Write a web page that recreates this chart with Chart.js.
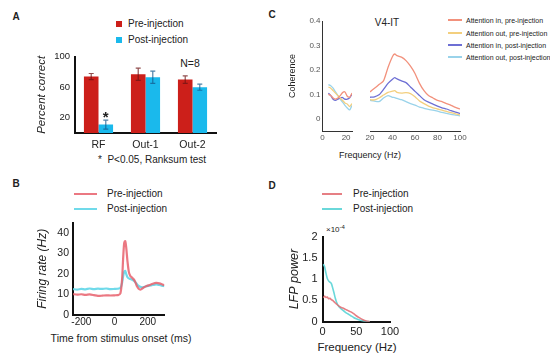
<!DOCTYPE html>
<html>
<head>
<meta charset="utf-8">
<script src="https://cdn.jsdelivr.net/npm/chart.js@4.4.1/dist/chart.umd.min.js"></script>
<style>
  body { margin:0; background:#fff; }
  #fig { position:relative; width:550px; height:358px; overflow:hidden; font-family:"Liberation Sans", Arial, sans-serif; color:#222; }
  canvas { position:absolute; }
  .t { position:absolute; white-space:nowrap; line-height:1; }
  .c { transform:translate(-50%,-50%); }
  .l { transform:translateY(-50%); }
  .sw { position:absolute; }
  .b { font-weight:bold; }
</style>
</head>
<body>
<div id="fig">
  <!-- A -->
  <div class="t c b" style="left:16px;top:17px;font-size:10px">A</div>
  <div class="sw" style="left:116px;top:21px;width:6px;height:6px;background:#cc1f1a"></div>
  <div class="t l" style="left:128px;top:24px;font-size:10px">Pre-injection</div>
  <div class="sw" style="left:116px;top:37px;width:6px;height:6px;background:#1ab9ec"></div>
  <div class="t l" style="left:128px;top:40px;font-size:10px">Post-injection</div>
  <div class="t c" style="left:190px;top:63px;font-size:10.5px">N=8</div>
  <div class="t l" style="left:98px;top:160px;font-size:10px">*&nbsp; P&lt;0.05, Ranksum test</div>
  <canvas id="cA" width="215" height="115" style="left:20px;top:46px"></canvas>

  <!-- B -->
  <div class="t c b" style="left:16px;top:184px;font-size:10px">B</div>
  <div class="sw" style="left:74px;top:193px;width:23px;height:2px;background:rgba(232,96,108,0.85)"></div>
  <div class="t l" style="left:107px;top:194px;font-size:10px">Pre-injection</div>
  <div class="sw" style="left:74px;top:208px;width:23px;height:2px;background:rgba(96,214,232,0.9)"></div>
  <div class="t l" style="left:107px;top:209px;font-size:10px">Post-injection</div>
  <div class="t c" style="left:121px;top:338px;font-size:10.5px">Time from stimulus onset (ms)</div>
  <canvas id="cB" width="160" height="140" style="left:20px;top:212px"></canvas>

  <!-- C -->
  <div class="t c b" style="left:272px;top:15px;font-size:10px">C</div>
  <div class="t c" style="left:387px;top:23px;font-size:10px">V4-IT</div>
  <div class="sw" style="left:448px;top:19px;width:14px;height:1.5px;background:#f2917c"></div>
  <div class="t l" style="left:466px;top:20px;font-size:7px">Attention in, pre-injection</div>
  <div class="sw" style="left:448px;top:32px;width:14px;height:1.5px;background:#f3cf7e"></div>
  <div class="t l" style="left:466px;top:33px;font-size:7px">Attention out, pre-injection</div>
  <div class="sw" style="left:448px;top:44px;width:14px;height:1.5px;background:#6d6fd4"></div>
  <div class="t l" style="left:466px;top:45px;font-size:7px">Attention in, post-injection</div>
  <div class="sw" style="left:448px;top:56px;width:14px;height:1.5px;background:#9ad3ea"></div>
  <div class="t l" style="left:466px;top:57px;font-size:7px">Attention out, post-injection</div>
  <div class="t c" style="left:370px;top:155px;font-size:9px">Frequency (Hz)</div>
  <canvas id="cC1" width="75" height="135" style="left:285px;top:11px"></canvas>
  <canvas id="cC2" width="110" height="135" style="left:360px;top:11px"></canvas>

  <!-- D -->
  <div class="t c b" style="left:272px;top:186px;font-size:10px">D</div>
  <div class="sw" style="left:322px;top:193px;width:20px;height:2px;background:rgba(226,104,110,0.85)"></div>
  <div class="t l" style="left:353px;top:194px;font-size:10px">Pre-injection</div>
  <div class="sw" style="left:322px;top:208px;width:20px;height:2px;background:rgba(90,212,214,0.9)"></div>
  <div class="t l" style="left:353px;top:209px;font-size:10px">Post-injection</div>
  <div class="t l" style="left:326px;top:229px;font-size:8px">&times;10<sup style="font-size:6px">-4</sup></div>
  <div class="t c" style="left:357px;top:348px;font-size:11.5px">Frequency (Hz)</div>
  <canvas id="cD" width="135" height="130" style="left:270px;top:225px"></canvas>
</div>

<script>
Chart.defaults.font.family = "'Liberation Sans', Arial, sans-serif";
Chart.defaults.color = '#222';

const COLORES = { rojo:'#cc1f1a', azul:'#1ab9ec', preB:'rgba(232,96,108,0.85)', postB:'rgba(96,214,232,0.9)',
  inPre:'#f2917c', outPre:'#f3cf7e', inPost:'#6d6fd4', outPost:'#9ad3ea',
  preD:'rgba(226,104,110,0.85)', postD:'rgba(90,212,214,0.9)' };

// A: percent correct
const catsA = ['RF', 'Out-1', 'Out-2'];
const preA = [74, 77, 70];
const postA = [11, 73, 60];
const preErrA = [4, 8, 5];
const postErrA = [6, 8, 4];
const starsA = ['*', '', ''];
const ticksA = [20, 60, 100];

// B: firing rate
const timeB = [-250,-225,-200,-175,-150,-125,-100,-75,-50,-25,0,20,35,45,52,58,64,70,78,86,95,105,115,125,135,145,155,165,175,190,210,230,250,270,290,300];
const preB  = [10.2,9.9,10.1,9.8,10.0,9.7,9.3,9.4,9.6,9.5,9.6,9.7,10.5,17,28,35,36,33,26,21,19,18.2,17.4,16,14,12.8,12.4,12.8,13.4,14,14.6,15.2,15.6,15.4,14.8,14.5];
const postB = [12.6,12.4,12.7,12.5,12.9,12.6,12.8,12.7,12.9,12.6,12.7,12.8,13.2,15.5,19,21,21.5,20,18.4,17.8,17.5,17.2,16.8,16,15,14.2,13.7,13.5,13.6,14,14.3,14.6,14.9,14.6,14.2,14];
const ticksBx = [-200, 0, 200];
const ticksBy = [0, 10, 20, 30, 40];

// C: coherence V4-IT
const freqC1 = [5,7,9,11,13,15,17,19,21,23,25];
const inPreC1   = [0.100,0.095,0.085,0.080,0.085,0.095,0.107,0.110,0.092,0.088,0.105];
const outPreC1  = [0.130,0.125,0.115,0.105,0.095,0.085,0.075,0.065,0.060,0.050,0.062];
const inPostC1  = [0.105,0.095,0.080,0.075,0.080,0.085,0.087,0.080,0.080,0.086,0.100];
const outPostC1 = [0.140,0.135,0.125,0.110,0.095,0.080,0.068,0.055,0.044,0.036,0.055];
const freqC2 = [20,24,28,32,36,40,42,44,48,52,56,60,64,68,72,76,80,84,88,92,96,100];
const inPreC2   = [0.110,0.125,0.140,0.155,0.210,0.255,0.265,0.258,0.252,0.238,0.215,0.185,0.145,0.115,0.095,0.085,0.075,0.070,0.062,0.055,0.047,0.040];
const outPreC2  = [0.078,0.077,0.085,0.097,0.108,0.113,0.115,0.108,0.105,0.107,0.103,0.090,0.073,0.062,0.052,0.045,0.040,0.035,0.030,0.025,0.020,0.016];
const inPostC2  = [0.088,0.090,0.098,0.120,0.145,0.162,0.168,0.163,0.155,0.148,0.130,0.112,0.095,0.078,0.068,0.060,0.052,0.045,0.040,0.033,0.027,0.022];
const outPostC2 = [0.075,0.072,0.070,0.085,0.095,0.088,0.087,0.083,0.078,0.070,0.062,0.056,0.048,0.043,0.038,0.035,0.031,0.026,0.022,0.018,0.015,0.012];
const ticksCy = [0, 0.1, 0.2, 0.3, 0.4];
const ticksC1x = [0, 20];
const ticksC2x = [20, 40, 60, 80, 100];

// D: LFP power (x1e-4)
const freqD = [1,3,5,7,9,11,13,15,17,19,21,24,27,30,34,38,42,46,50,55,60,65,70];
const postD = [1.35,1.30,1.15,1.02,0.96,0.93,0.90,0.80,0.68,0.55,0.45,0.36,0.31,0.27,0.22,0.18,0.14,0.10,0.07,0.04,0.02,0.005,0];
const preD  = [0.56,0.60,0.57,0.58,0.54,0.55,0.52,0.50,0.47,0.44,0.41,0.37,0.34,0.32,0.29,0.26,0.23,0.19,0.14,0.09,0.045,0.015,0];
const ticksDx = [0, 50, 100];
const ticksDy = [0, 0.5, 1, 1.5, 2];

const xy = (xs, ys) => xs.map((x, i) => ({ x: x, y: ys[i] }));

function eje(o) {
  // ejes estilo matlab: solo la línea del borde
  const ticks = { font: { size: o.fs || 10 }, padding: o.pad || 4, color: o.tc || '#222', maxRotation: 0, autoSkip: false };
  if (o.type !== 'category') ticks.callback = v => String(v);
  return {
    type: o.type || 'linear', min: o.min, max: o.max, display: o.display === undefined ? true : o.display,
    afterFit: s => { if (o.w !== undefined) s.width = o.w; if (o.h !== undefined) s.height = o.h; },
    afterBuildTicks: o.ticks ? (s => { s.ticks = o.ticks.map(v => ({ value: v })); }) : undefined,
    grid: { display: false, drawTicks: false },
    border: { color: o.bc || '#111', width: o.bw || 2 },
    ticks: ticks,
    title: o.title ? { display: true, text: o.title, font: { size: o.tfs || 12, style: o.italic ? 'italic' : 'normal' }, padding: o.tpad, color: '#222' } : { display: false }
  };
}

const errorBars = {
  id: 'errorBars',
  afterDatasetsDraw(chart) {
    const ctx = chart.ctx, y = chart.scales.y;
    chart.data.datasets.forEach((ds, i) => {
      const meta = chart.getDatasetMeta(i);
      meta.data.forEach((bar, j) => {
        const v = ds.data[j], e = ds.errs[j];
        const yt = y.getPixelForValue(v + e), yb = y.getPixelForValue(v - e);
        ctx.save();
        ctx.strokeStyle = ds.errColor; ctx.lineWidth = 1.2;
        ctx.beginPath();
        ctx.moveTo(bar.x, yt); ctx.lineTo(bar.x, yb);
        ctx.moveTo(bar.x - 2.5, yt); ctx.lineTo(bar.x + 2.5, yt);
        ctx.moveTo(bar.x - 2.5, yb); ctx.lineTo(bar.x + 2.5, yb);
        ctx.stroke();
        if (ds.marks && ds.marks[j]) {
          ctx.fillStyle = '#222'; ctx.font = 'bold 15px "Liberation Sans", Arial, sans-serif';
          ctx.textAlign = 'center'; ctx.textBaseline = 'middle';
          ctx.fillText(ds.marks[j], bar.x, yt - 2);
        }
        ctx.restore();
      });
    });
  }
};

const base = { responsive: false, animation: false, plugins: { legend: { display: false }, tooltip: { enabled: false } } };

new Chart(document.getElementById('cA'), {
  type: 'bar',
  data: { labels: catsA, datasets: [
    { label: 'Pre-injection', data: preA, backgroundColor: COLORES.rojo, errs: preErrA, errColor: 'rgba(110,20,20,0.75)', categoryPercentage: 0.62, barPercentage: 1 },
    { label: 'Post-injection', data: postA, backgroundColor: COLORES.azul, errs: postErrA, marks: starsA, errColor: 'rgba(20,90,140,0.75)', categoryPercentage: 0.62, barPercentage: 1 }
  ]},
  options: Object.assign({}, base, {
    layout: { padding: { top: 10, right: 19, left: 0, bottom: 0 } },
    scales: {
      x: Object.assign(eje({ type: 'category', h: 28, fs: 10.5, pad: 6 }), { offset: true }),
      y: eje({ min: 0, max: 100, w: 55, ticks: ticksA, fs: 9.5, pad: 5, title: 'Percent correct', italic: true, tfs: 11.5, tpad: { top: 15 } })
    }
  }),
  plugins: [errorBars]
});

new Chart(document.getElementById('cB'), {
  type: 'line',
  data: { datasets: [
    { label: 'Pre-injection', data: xy(timeB, preB), borderColor: COLORES.preB, borderWidth: 2.2, pointRadius: 0, tension: 0.25 },
    { label: 'Post-injection', data: xy(timeB, postB), borderColor: COLORES.postB, borderWidth: 2.2, pointRadius: 0, tension: 0.25 }
  ]},
  options: Object.assign({}, base, {
    layout: { padding: { top: 10.6, right: 15.6, left: 0, bottom: 0 } },
    scales: {
      x: eje({ min: -250, max: 300, h: 37, ticks: ticksBx, fs: 10, pad: 1 }),
      y: eje({ min: 0, max: 45, w: 53, ticks: ticksBy, fs: 10.5, pad: 4, title: 'Firing rate (Hz)', italic: true, tfs: 12, tpad: { top: 15 } })
    }
  })
});

const lineC = (d, c) => ({ data: d, borderColor: c, borderWidth: 1.3, pointRadius: 0, tension: 0.2 });

new Chart(document.getElementById('cC1'), {
  type: 'line',
  data: { datasets: [
    lineC(xy(freqC1, inPreC1), COLORES.inPre),
    lineC(xy(freqC1, outPreC1), COLORES.outPre),
    lineC(xy(freqC1, inPostC1), COLORES.inPost),
    lineC(xy(freqC1, outPostC1), COLORES.outPost)
  ]},
  options: Object.assign({}, base, {
    layout: { padding: { top: 10, right: 8, left: 0, bottom: 0 } },
    scales: {
      x: eje({ min: 0, max: 25, h: 15, ticks: ticksC1x, fs: 8, pad: 2, tc: '#555', bc: '#333', bw: 1 }),
      y: eje({ min: -0.05, max: 0.4, w: 37.5, ticks: ticksCy, fs: 8, pad: 2, tc: '#555', bc: '#333', bw: 1, title: 'Coherence', tfs: 9, tpad: { top: 2.5 } })
    }
  })
});

new Chart(document.getElementById('cC2'), {
  type: 'line',
  data: { datasets: [
    lineC(xy(freqC2, inPreC2), COLORES.inPre),
    lineC(xy(freqC2, outPreC2), COLORES.outPre),
    lineC(xy(freqC2, inPostC2), COLORES.inPost),
    lineC(xy(freqC2, outPostC2), COLORES.outPost)
  ]},
  options: Object.assign({}, base, {
    layout: { padding: { top: 10, right: 10, left: 10, bottom: 0 } },
    scales: {
      x: eje({ min: 20, max: 100, h: 15, ticks: ticksC2x, fs: 8, pad: 2, tc: '#555', bc: '#333', bw: 1 }),
      y: eje({ min: -0.05, max: 0.4, display: false })
    }
  })
});

new Chart(document.getElementById('cD'), {
  type: 'line',
  data: { datasets: [
    { label: 'Pre-injection', data: xy(freqD, preD), borderColor: COLORES.preD, borderWidth: 1.6, pointRadius: 0, tension: 0.2 },
    { label: 'Post-injection', data: xy(freqD, postD), borderColor: COLORES.postD, borderWidth: 1.6, pointRadius: 0, tension: 0.2 }
  ]},
  options: Object.assign({}, base, {
    layout: { padding: { top: 10, right: 15, left: 0, bottom: 0 } },
    scales: {
      x: eje({ min: 0, max: 100, h: 33.3, ticks: ticksDx, fs: 11, pad: 4 }),
      y: eje({ min: 0, max: 2, w: 52.5, ticks: ticksDy, fs: 11, pad: 5, title: 'LFP power', italic: true, tfs: 12.5, tpad: { top: 17 } })
    }
  })
});
</script>
</body>
</html>
